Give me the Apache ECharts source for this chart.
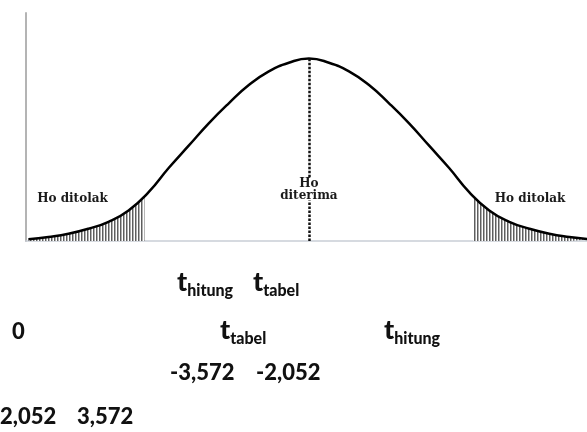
<!DOCTYPE html>
<html>
<head>
<meta charset="utf-8">
<script src="https://cdn.jsdelivr.net/npm/echarts@6/dist/echarts.min.js"></script>
<style>html,body{margin:0;padding:0;background:#fff;}</style>
</head>
<body>
<div id="main" style="width:587px;height:432px;"></div>
<script>
// curve (x in t units, y = height of the curve)
var xData = [-3.5, -3.25, -3, -2.75, -2.5, -2.25, -2, -1.75, -1.5, -1.25, -1, -0.75, -0.5, -0.25, 0,
  0.25, 0.5, 0.75, 1, 1.25, 1.5, 1.75, 2, 2.25, 2.5, 2.75, 3, 3.25, 3.5];
var yData = [0.004, 0.009, 0.016, 0.027, 0.042, 0.067, 0.107, 0.160, 0.209, 0.258, 0.302, 0.342, 0.372, 0.391, 0.400,
  0.391, 0.372, 0.342, 0.302, 0.258, 0.209, 0.160, 0.107, 0.067, 0.042, 0.027, 0.016, 0.009, 0.004];
var tTabel = 2.052;
var tTabelY = 0.099;
var peakY = 0.4;
var rejectLabel = 'Ho ditolak';
var acceptLabel = 'Ho\nditerima';
var rejectPos = [[-2.95, 0.093], [2.76, 0.093]];
var acceptPos = [0, 0.113];
var negTicks = ['-3,572', '-2,052'];
var posTicks = ['2,052', '3,572'];
var zeroTick = '0';
var subHitung = 'hitung';
var subTabel = 'tabel';

var curve = xData.map(function (x, i) { return [x, yData[i]]; });
var leftTail = curve.filter(function (p) { return p[0] < -tTabel; }).concat([[-tTabel, tTabelY]]);
var rightTail = [[tTabel, tTabelY]].concat(curve.filter(function (p) { return p[0] > tTabel; }));

// vertical hatch pattern for the tails
var hatch = document.createElement('canvas');
hatch.width = 3;
hatch.height = 4;
var hctx = hatch.getContext('2d');
hctx.fillStyle = '#fff';
hctx.fillRect(0, 0, 3, 4);
hctx.fillStyle = '#5e5e5e';
hctx.fillRect(0, 0, 1, 4);
hctx.fillStyle = '#b0b0b0';
hctx.fillRect(1, 0, 1, 4);

var serifLabel = {
  show: true,
  fontFamily: 'DejaVu Serif',
  fontWeight: 'bold',
  fontSize: 12,
  color: '#1a1a1a',
  lineHeight: 12
};

function tLabel(sub, x, y) {
  return {
    type: 'text',
    x: x,
    y: y,
    style: {
      text: '{m|t}{s|' + sub + '}',
      verticalAlign: 'middle',
      rich: {
        m: { fontFamily: 'Lato', fontWeight: 900, fontSize: 27, fill: '#111', verticalAlign: 'bottom', padding: [0, 0, 3, 0] },
        s: { fontFamily: 'Lato', fontWeight: 900, fontSize: 16, fill: '#111', verticalAlign: 'bottom' }
      }
    }
  };
}
function numLabel(text, x, y) {
  return {
    type: 'text',
    x: x,
    y: y,
    style: {
      text: text,
      verticalAlign: 'middle',
      font: '900 22px Lato',
      fill: '#111'
    }
  };
}

var myChart = echarts.init(document.getElementById('main'));
var option = {
  animation: false,
  backgroundColor: '#fff',
  grid: { left: 26, right: 0, top: 13, bottom: 191 },
  xAxis: {
    type: 'value',
    min: -3.53,
    max: 3.47,
    axisLine: { show: true, onZero: false, lineStyle: { color: '#c9ced6', width: 1.5 } },
    axisTick: { show: false },
    axisLabel: { show: false },
    splitLine: { show: false }
  },
  yAxis: {
    type: 'value',
    min: 0,
    max: 0.5,
    axisLine: { show: true, onZero: false, lineStyle: { color: '#b4b4b4', width: 2 } },
    axisTick: { show: false },
    axisLabel: { show: false },
    splitLine: { show: false }
  },
  series: [
    {
      type: 'line',
      data: leftTail,
      smooth: true,
      symbol: 'none',
      lineStyle: { width: 0, opacity: 0 },
      areaStyle: { color: { image: hatch, repeat: 'repeat' }, opacity: 1 },
      z: 1
    },
    {
      type: 'line',
      data: rightTail,
      smooth: true,
      symbol: 'none',
      lineStyle: { width: 0, opacity: 0 },
      areaStyle: { color: { image: hatch, repeat: 'repeat' }, opacity: 1 },
      z: 1
    },
    {
      type: 'line',
      data: curve,
      smooth: true,
      symbol: 'none',
      lineStyle: { color: '#000', width: 2.5 },
      z: 3,
      markLine: {
        silent: true,
        symbol: ['none', 'none'],
        label: { show: false },
        lineStyle: { color: '#111', width: 2.5, type: [2.5, 1.5] },
        data: [
          [{ coord: [0, 0] }, { coord: [0, 0.089] }],
          [{ coord: [0, 0.14] }, { coord: [0, peakY] }]
        ]
      },
      markPoint: {
        silent: true,
        symbol: 'rect',
        symbolSize: 0,
        label: Object.assign({ position: 'inside' }, serifLabel),
        data: [
          { coord: rejectPos[0], value: rejectLabel },
          { coord: rejectPos[1], value: rejectLabel },
          { coord: acceptPos, value: acceptLabel }
        ]
      }
    }
  ],
  graphic: [
    tLabel(subHitung, 177, 284),
    tLabel(subTabel, 253, 284),
    numLabel(zeroTick, 12, 332),
    tLabel(subTabel, 220, 332),
    tLabel(subHitung, 384, 332),
    numLabel(negTicks[0], 170, 373),
    numLabel(negTicks[1], 256, 373),
    numLabel(posTicks[0], 0, 417),
    numLabel(posTicks[1], 77, 417)
  ]
};
myChart.setOption(option);
</script>
</body>
</html>
